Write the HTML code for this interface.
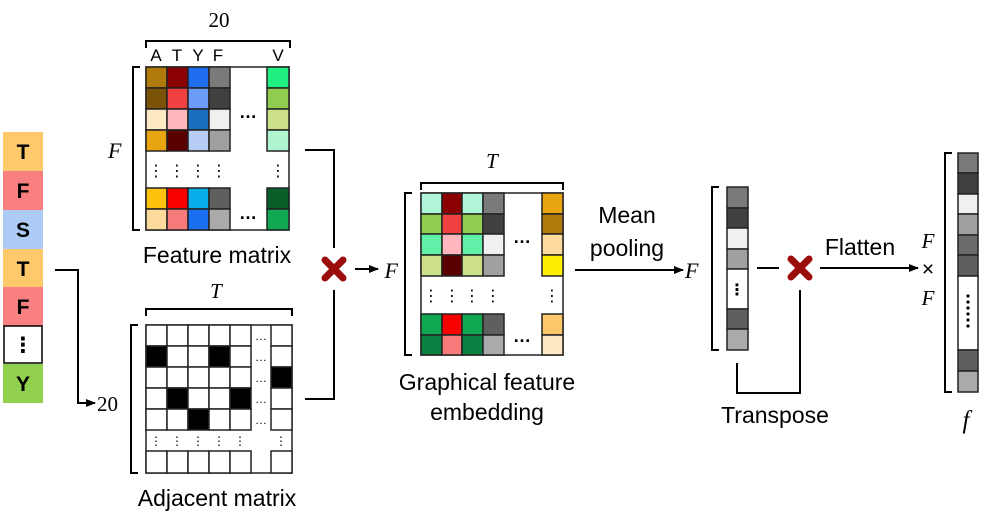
<!DOCTYPE html>
<html><head><meta charset="utf-8"><style>
html,body{margin:0;padding:0;background:#fff;width:993px;height:526px;overflow:hidden}
svg{display:block}
.s{font-family:"Liberation Sans","DejaVu Sans",sans-serif}
.m{font-family:"Liberation Serif",serif;font-style:italic}
.c{stroke:#222;stroke-width:1.5}
</style></head><body>
<svg width="993" height="526" viewBox="0 0 993 526" xmlns="http://www.w3.org/2000/svg">
<defs><marker id="ar" markerWidth="10" markerHeight="8" refX="9" refY="4" orient="auto" markerUnits="userSpaceOnUse"><path d="M0,0L10,4L0,8z" fill="#000"/></marker></defs>
<g fill="none" stroke="#000" stroke-width="2">
<path d="M55,270H78V403H95" marker-end="url(#ar)"/>
<path d="M305,150H334V248"/>
<path d="M305,399H334V290"/>
<path d="M355,269H378" marker-end="url(#ar)"/>
<path d="M575,270H683" marker-end="url(#ar)"/>
<path d="M757,268H779"/>
<path d="M820,268H918" marker-end="url(#ar)"/>
<path d="M737,363V393H800V290"/>
<path d="M140,67H133V230H140"/>
<path d="M138,325H131V473H138"/>
<path d="M412,193H405V355H412"/>
<path d="M719,187H712V350H719"/>
<path d="M952,153H945V392H952"/>
<path d="M146,48V41H290V48"/>
<path d="M146,316V309H292V316"/>
<path d="M421,190V183H563V190"/>
</g>
<g class="s" font-weight="bold" font-size="21" text-anchor="middle">
<rect x="3" y="132" width="40" height="39" fill="#fdc96b"/><text x="23" y="159">T</text>
<rect x="3" y="171" width="40" height="39" fill="#f98080"/><text x="23" y="198">F</text>
<rect x="3" y="210" width="40" height="39" fill="#aecbf6"/><text x="23" y="237">S</text>
<rect x="3" y="249" width="40" height="38" fill="#fdc96b"/><text x="23" y="276">T</text>
<rect x="3" y="287" width="40" height="39" fill="#f98080"/><text x="23" y="314">F</text>
<rect x="4" y="326" width="38" height="37" fill="#fff" stroke="#000" stroke-width="1.5"/><text x="23" y="352">⋮</text>
<rect x="3" y="364" width="40" height="39" fill="#92d050"/><text x="23" y="391">Y</text>
</g>
<rect x="146" y="67" width="143" height="163" fill="#fff" stroke="#222" stroke-width="1.5"/>
<g class="c">
<rect x="146" y="67" width="21" height="21" fill="#b07a0c"/><rect x="167" y="67" width="21" height="21" fill="#8b0000"/><rect x="188" y="67" width="21" height="21" fill="#1f6ef0"/><rect x="209" y="67" width="21" height="21" fill="#7a7a7a"/>
<rect x="146" y="88" width="21" height="21" fill="#7a5208"/><rect x="167" y="88" width="21" height="21" fill="#f04040"/><rect x="188" y="88" width="21" height="21" fill="#6c9cf6"/><rect x="209" y="88" width="21" height="21" fill="#404040"/>
<rect x="146" y="109" width="21" height="21" fill="#fde9c4"/><rect x="167" y="109" width="21" height="21" fill="#ffb6bc"/><rect x="188" y="109" width="21" height="21" fill="#1a70c0"/><rect x="209" y="109" width="21" height="21" fill="#f0f0f0"/>
<rect x="146" y="130" width="21" height="21" fill="#e8a510"/><rect x="167" y="130" width="21" height="21" fill="#5a0000"/><rect x="188" y="130" width="21" height="21" fill="#b7cdf6"/><rect x="209" y="130" width="21" height="21" fill="#a0a0a0"/>
<rect x="146" y="188" width="21" height="21" fill="#fcc10a"/><rect x="167" y="188" width="21" height="21" fill="#f80000"/><rect x="188" y="188" width="21" height="21" fill="#08aeea"/><rect x="209" y="188" width="21" height="21" fill="#5e605e"/>
<rect x="146" y="209" width="21" height="21" fill="#fcdb9c"/><rect x="167" y="209" width="21" height="21" fill="#f77a7a"/><rect x="188" y="209" width="21" height="21" fill="#1a6ef0"/><rect x="209" y="209" width="21" height="21" fill="#aaaaaa"/>
<rect x="267" y="67" width="22" height="21" fill="#20f080"/><rect x="267" y="88" width="22" height="21" fill="#90cc50"/><rect x="267" y="109" width="22" height="21" fill="#cce08a"/><rect x="267" y="130" width="22" height="21" fill="#b0f5d0"/>
<rect x="267" y="188" width="22" height="21" fill="#086028"/><rect x="267" y="209" width="22" height="21" fill="#10a850"/>
</g>
<g class="s" font-size="18" font-weight="bold" text-anchor="middle">
<text x="248" y="118">…</text><text x="248" y="219">…</text>
</g>
<g class="s" font-size="16" text-anchor="middle">
<text x="156" y="176">⋮</text><text x="177" y="176">⋮</text><text x="198" y="176">⋮</text><text x="219" y="176">⋮</text><text x="278" y="176">⋮</text>
</g>
<g class="s" font-size="17" text-anchor="middle"><text x="156" y="61">A</text><text x="177" y="61">T</text><text x="198" y="61">Y</text><text x="218" y="61">F</text><text x="278" y="61">V</text></g>
<text x="219" y="27" font-family="Liberation Serif,serif" font-size="21" text-anchor="middle">20</text>
<text x="108" y="158" class="m" font-size="22">F</text>
<text x="217" y="263" class="s" font-size="23" text-anchor="middle">Feature matrix</text>
<rect x="146" y="325" width="146" height="148" fill="#fff" stroke="#222" stroke-width="1.5"/>
<g class="c" fill="#fff">
<rect x="146" y="325" width="21" height="21"/><rect x="167" y="325" width="21" height="21"/><rect x="188" y="325" width="21" height="21"/><rect x="209" y="325" width="21" height="21"/><rect x="230" y="325" width="21" height="21"/><rect x="271" y="325" width="21" height="21"/>
<rect x="146" y="346" width="21" height="21" fill="#000"/><rect x="167" y="346" width="21" height="21"/><rect x="188" y="346" width="21" height="21"/><rect x="209" y="346" width="21" height="21" fill="#000"/><rect x="230" y="346" width="21" height="21"/><rect x="271" y="346" width="21" height="21"/>
<rect x="146" y="367" width="21" height="21"/><rect x="167" y="367" width="21" height="21"/><rect x="188" y="367" width="21" height="21"/><rect x="209" y="367" width="21" height="21"/><rect x="230" y="367" width="21" height="21"/><rect x="271" y="367" width="21" height="21" fill="#000"/>
<rect x="146" y="388" width="21" height="21"/><rect x="167" y="388" width="21" height="21" fill="#000"/><rect x="188" y="388" width="21" height="21"/><rect x="209" y="388" width="21" height="21"/><rect x="230" y="388" width="21" height="21" fill="#000"/><rect x="271" y="388" width="21" height="21"/>
<rect x="146" y="409" width="21" height="21"/><rect x="167" y="409" width="21" height="21"/><rect x="188" y="409" width="21" height="21" fill="#000"/><rect x="209" y="409" width="21" height="21"/><rect x="230" y="409" width="21" height="21"/><rect x="271" y="409" width="21" height="21"/>
<rect x="146" y="451" width="21" height="22"/><rect x="167" y="451" width="21" height="22"/><rect x="188" y="451" width="21" height="22"/><rect x="209" y="451" width="21" height="22"/><rect x="230" y="451" width="21" height="22"/><rect x="271" y="451" width="21" height="22"/>
</g>
<g class="s" font-size="12" text-anchor="middle">
<text x="261" y="340">…</text><text x="261" y="361">…</text><text x="261" y="382">…</text><text x="261" y="403">…</text><text x="261" y="424">…</text>
<text x="156" y="445">⋮</text><text x="177" y="445">⋮</text><text x="198" y="445">⋮</text><text x="219" y="445">⋮</text><text x="240" y="445">⋮</text><text x="281" y="445">⋮</text>
</g>
<text x="216" y="298" class="m" font-size="21" text-anchor="middle">T</text>
<text x="97" y="411" font-family="Liberation Serif,serif" font-size="21">20</text>
<text x="217" y="506" class="s" font-size="23" text-anchor="middle">Adjacent matrix</text>
<g stroke="#9b0c0c" stroke-width="7" stroke-linecap="round">
<path d="M325,260L343,278M343,260L325,278"/>
<path d="M791,259L809,277M809,259L791,277"/>
</g>
<rect x="421" y="193" width="142" height="162" fill="#fff" stroke="#222" stroke-width="1.5"/>
<g class="c">
<rect x="421" y="193" width="21" height="21" fill="#b0f5d8"/><rect x="442" y="193" width="20" height="21" fill="#8b0000"/><rect x="462" y="193" width="21" height="21" fill="#b0f5d8"/><rect x="483" y="193" width="21" height="21" fill="#7a7a7a"/>
<rect x="421" y="214" width="21" height="20" fill="#90cc50"/><rect x="442" y="214" width="20" height="20" fill="#f04040"/><rect x="462" y="214" width="21" height="20" fill="#90cc50"/><rect x="483" y="214" width="21" height="20" fill="#404040"/>
<rect x="421" y="234" width="21" height="21" fill="#60f0a8"/><rect x="442" y="234" width="20" height="21" fill="#ffb6bc"/><rect x="462" y="234" width="21" height="21" fill="#60f0a8"/><rect x="483" y="234" width="21" height="21" fill="#f0f0f0"/>
<rect x="421" y="255" width="21" height="21" fill="#cce08a"/><rect x="442" y="255" width="20" height="21" fill="#5a0000"/><rect x="462" y="255" width="21" height="21" fill="#cce08a"/><rect x="483" y="255" width="21" height="21" fill="#a0a0a0"/>
<rect x="421" y="314" width="21" height="21" fill="#10a850"/><rect x="442" y="314" width="20" height="21" fill="#f80000"/><rect x="462" y="314" width="21" height="21" fill="#10a850"/><rect x="483" y="314" width="21" height="21" fill="#5e605e"/>
<rect x="421" y="335" width="21" height="20" fill="#088040"/><rect x="442" y="335" width="20" height="20" fill="#f77a7a"/><rect x="462" y="335" width="21" height="20" fill="#088040"/><rect x="483" y="335" width="21" height="20" fill="#aaaaaa"/>
<rect x="542" y="193" width="21" height="21" fill="#e8a510"/><rect x="542" y="214" width="21" height="20" fill="#b07a0c"/><rect x="542" y="234" width="21" height="21" fill="#fcdb9c"/><rect x="542" y="255" width="21" height="21" fill="#fcf000"/>
<rect x="542" y="314" width="21" height="21" fill="#fcc86a"/><rect x="542" y="335" width="21" height="20" fill="#fde9c4"/>
</g>
<g class="s" font-size="18" font-weight="bold" text-anchor="middle">
<text x="522" y="243">…</text><text x="522" y="342">…</text>
</g>
<g class="s" font-size="16" text-anchor="middle">
<text x="431" y="301">⋮</text><text x="452" y="301">⋮</text><text x="472" y="301">⋮</text><text x="493" y="301">⋮</text><text x="552" y="301">⋮</text>
</g>
<text x="492" y="168" class="m" font-size="21" text-anchor="middle">T</text>
<text x="398" y="278" class="m" font-size="22" text-anchor="end">F</text>
<text x="487" y="390" class="s" font-size="23" text-anchor="middle">Graphical feature</text>
<text x="487" y="420" class="s" font-size="23" text-anchor="middle">embedding</text>
<text x="627" y="223" class="s" font-size="23" text-anchor="middle">Mean</text>
<text x="627" y="256" class="s" font-size="23" text-anchor="middle">pooling</text>
<text x="685" y="278" class="m" font-size="22">F</text>
<g class="c">
<rect x="727" y="187" width="21" height="21" fill="#7a7a7a"/><rect x="727" y="208" width="21" height="20" fill="#404040"/><rect x="727" y="228" width="21" height="21" fill="#f0f0f0"/><rect x="727" y="249" width="21" height="20" fill="#a0a0a0"/>
<rect x="727" y="269" width="21" height="40" fill="#fff"/><rect x="727" y="309" width="21" height="20" fill="#5e605e"/><rect x="727" y="329" width="21" height="21" fill="#aaaaaa"/>
</g>
<text x="737" y="295" class="s" font-size="16" font-weight="bold" text-anchor="middle">⋮</text>
<text x="775" y="423" class="s" font-size="23" text-anchor="middle">Transpose</text>
<text x="860" y="255" class="s" font-size="23" text-anchor="middle">Flatten</text>
<text x="928" y="248" class="m" font-size="21" text-anchor="middle">F</text>
<text x="928" y="276" font-family="Liberation Sans,sans-serif" font-size="21" text-anchor="middle">×</text>
<text x="928" y="305" class="m" font-size="21" text-anchor="middle">F</text>
<g class="c">
<rect x="958" y="153" width="20" height="20" fill="#7a7a7a"/><rect x="958" y="173" width="20" height="21" fill="#404040"/><rect x="958" y="194" width="20" height="20" fill="#f0f0f0"/><rect x="958" y="214" width="20" height="21" fill="#a0a0a0"/>
<rect x="958" y="235" width="20" height="20" fill="#6a6c6a"/><rect x="958" y="255" width="20" height="21" fill="#5e605e"/><rect x="958" y="276" width="20" height="74" fill="#fff"/>
<rect x="958" y="350" width="20" height="21" fill="#5e605e"/><rect x="958" y="371" width="20" height="21" fill="#aaaaaa"/>
</g>
<g fill="#000"><circle cx="968" cy="296" r="1.6"/><circle cx="968" cy="302" r="1.6"/><circle cx="968" cy="308" r="1.6"/><circle cx="968" cy="314" r="1.6"/><circle cx="968" cy="320" r="1.6"/><circle cx="968" cy="326" r="1.6"/></g>
<text x="966" y="428" class="m" font-size="25" text-anchor="middle">f</text>
</svg>
</body></html>
